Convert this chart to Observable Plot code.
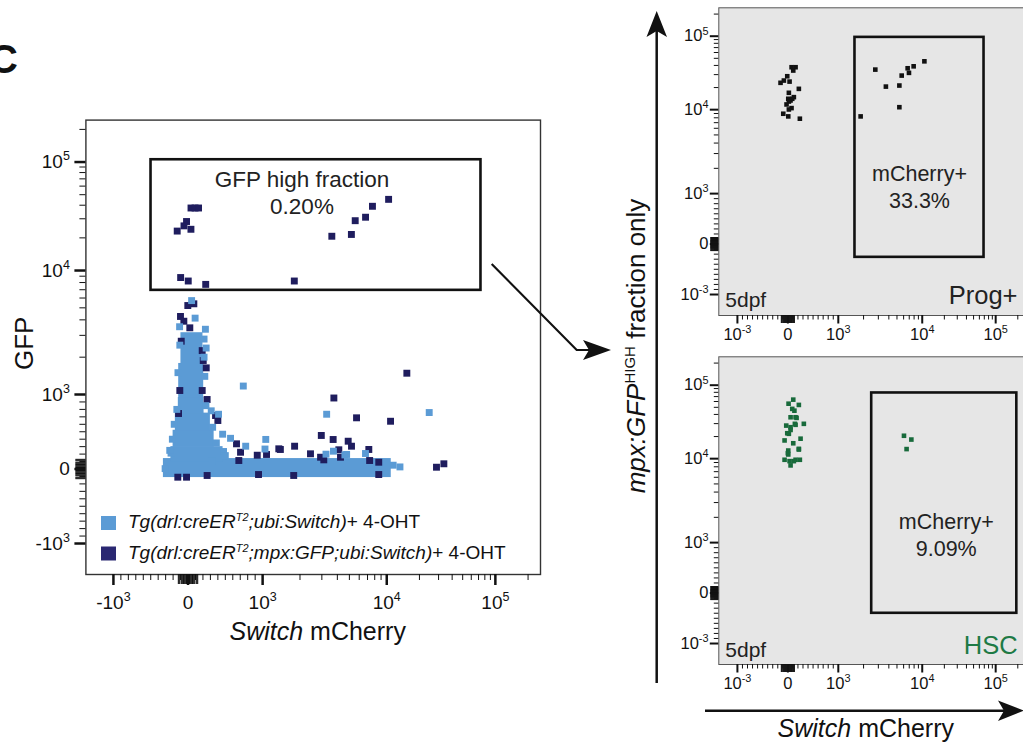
<!DOCTYPE html>
<html><head><meta charset="utf-8">
<script src="https://cdn.jsdelivr.net/npm/d3@7"></script>
<script src="https://cdn.jsdelivr.net/npm/@observablehq/plot@0.6"></script>
<style>
body{margin:0;background:#fff;}
#fig{position:relative;width:1023px;height:744px;overflow:hidden;background:#fff;font-family:"Liberation Sans",Arial,Helvetica,sans-serif;}
</style>
</head><body><div id="fig"></div>
<script>
// ---------- tick values (fluorescence units) ----------
const majorTicks = [-1000, 0, 1000, 10000, 100000];
const leftTickLabels = ["-10^3", "0", "10^3", "10^4", "10^5"];
const rightTickLabels = ["10^-3", "0", "10^3", "10^4", "10^5"];
const linearMinor = [-900,-800,-700,-600,-500,-400,-300,-200,-100,100,200,300,400,500,600,700,800,900];
const nearZero = [-130,-120,-110,-90,-80,-70,-60,-50,-40,-30,-20,-10,10,20,30,40,50,60,70,80,90,110,120,130];
const logMinor = [2000,3000,4000,5000,6000,7000,8000,9000,20000,30000,40000,50000,60000,70000,80000,90000,200000];

// ---------- left plot: Tg(drl:creERT2;ubi:Switch) (light) dense core cells ----------
const coreX1 = [-330, -230, -200, -170, -130, -125, -95];
const coreX2 = [11000, 470, 350, 300, 215, 210, 200];
const coreY1 = [-115, 90, 290, 510, 740, 950, 1750];
const coreY2 = [140, 300, 520, 750, 960, 1780, 3150];
// light scattered events
const ctrlX = [48,95,-113,233,243,741,3280,24600,311,409,464,570,773,1060,1045,3240,4600,6740,476,-228,11450,13230,-307,326,3720,4750,
  -110,-135,-150,-185,-210,-245,215,225,240,330,380,500,215];
const ctrlY = [5720,4130,3520,3360,2370,1170,735,758,781,735,467,412,306,397,268,199,189,208,235,213,51,28,5,106,239,195,
  2500,1500,800,600,400,250,2800,1400,850,560,350,180,2000];
// Tg(drl:creERT2;mpx:GFP;ubi:Switch) (navy) events
const mpxX = [-145,-20,-54,39,40,94,141,-99,3,237,1800,3610,5190,5570,6750,7670,10400,
  78,-3,-101,-56,24,-91,190,244,204,400,369,650,704,681,928,1075,1350,-110,190,-137,-20,
  3750,5710,10840,2970,3700,4890,5200,1810,1390,7170,4110,2430,2930,3110,4240,8620,28700,33560,8620,1780,7280,15310,256,-127,256,945];
const mpxY = [23100,28300,25800,24000,37700,37700,37700,8780,8230,7730,8230,20700,21500,28800,31000,39100,45300,
  5390,5220,4260,3900,3450,2690,2260,1640,1880,651,718,338,225,114,185,195,271,1077,1077,-110,-110,
  953,687,641,450,396,373,306,306,262,262,258,204,158,123,158,91,24,70,-74,-87,114,1485,933,745,-87,-74];
const gateLeft = {x1: -496, x2: 73700, y1: 6920, y2: 105000, label: "GFP high fraction\n0.20%"};

// ---------- right top: Prog+ ----------
const progX = [74,153,107,-12,-79,-145,34,218,20,119,8,53,73,20,-91,8,238,87,20,-26,
  1845,2760,3690,5340,5340,5690,6700,6950,7900,10700];
const progY = [37800,37800,34100,28500,24900,23200,24100,19200,16960,14800,14060,13340,10500,10060,8940,8310,7800,14060,12900,11770,
  8310,35100,20600,21300,10800,29100,36600,31700,38900,45500];
const gateProg = {x1: 1580, x2: 69400, y1: -263, y2: 96400, label: "mCherry+\n33.3%"};

// ---------- right bottom: HSC ----------
const hscX = [107,218,87,54,153,139,317,-32,54,-12,-65,107,218,8,8,-65,34,153,238,54,20,
  130,173,153,218,0,119,54,14,252, 6060,7420,6510];
const hscY = [63600,53900,47600,36600,36600,29800,29800,28200,26800,22200,17700,16200,13300,12900,11400,9700,9340,9700,9700,8310,21800,
  45000,35900,28900,13600,11880,9340,24600,56000,18700, 20500,18200,13500];
const gateHsc = {x1: 2500, x2: 194000, y1: -401, y2: 78400, label: "mCherry+\n9.09%"};

// ---------- styling ----------
const FONT = '"Liberation Sans", Arial, Helvetica, sans-serif';
const LIGHT = "#5b9bd5", NAVY = "#1f1d5e", GREEN = "#186a3b", HSCTXT = "#1e7a45", PANEL = "#e6e6e6";
const X_DOMAIN = [-1.369, 4.725], Y_DOMAIN = [-1.416, 4.683];

// biexponential-like display transform (linear near zero, log above 10^3)
function biex(v) {
  const a = Math.abs(v), s = Math.sign(v);
  if (a <= 1000) return v / 1000;
  if (a <= 1e4) return s * (1 + 1.664 * Math.log10(a / 1000));
  return s * (2.664 + 1.456 * Math.log10(a / 1e4));
}
const idx = n => d3.range(n);

function axes(labels, o) {
  const majD = majorTicks.map(biex);
  const minD = linearMinor.concat(logMinor).map(biex);
  const zD = nearZero.map(biex);
  const common = {label: null, stroke: "#111", tickFormat: () => ""};
  return [
    Plot.axisX(minD, {...common, tickSize: o.minor, strokeWidth: 1}),
    Plot.axisX(zD, {...common, tickSize: o.zero, strokeWidth: 1}),
    Plot.axisX(majD, {...common, tickSize: o.major, strokeWidth: o.sw}),
    Plot.axisY(minD, {...common, tickSize: o.minor, strokeWidth: 1}),
    Plot.axisY(zD, {...common, tickSize: o.zero, strokeWidth: 1}),
    Plot.axisY(majD, {...common, tickSize: o.major, strokeWidth: o.sw}),
    // tick labels
    Plot.text(idx(majD.length), {x: i => majD[i], frameAnchor: "bottom", text: i => labels[i], lineAnchor: "top", dy: o.labDy, fontSize: o.fs, fill: "#111"}),
    Plot.text(idx(majD.length), {y: i => majD[i], frameAnchor: "left", text: i => labels[i], textAnchor: "end", dx: o.labDx, fontSize: o.fs, fill: "#111"})
  ];
}

function gateMarks(g, fs, lh, dx, dy, sw) {
  return [
    Plot.rect([g], {x1: d => biex(d.x1), x2: d => biex(d.x2), y1: d => biex(d.y1), y2: d => biex(d.y2), fill: "none", stroke: "#111", strokeWidth: sw}),
    Plot.text([g], {x: d => (biex(d.x1) + biex(d.x2)) / 2, y: d => biex(d.y2), text: d => d.label, lineAnchor: "top", lineHeight: lh, fontSize: fs, dx, dy, fill: "#222"})
  ];
}

// turn "10^5" tick labels into 10 + superscript
function supify(svg, fs) {
  const NS = "http://www.w3.org/2000/svg";
  svg.querySelectorAll("text").forEach(t => {
    if (t.querySelector("tspan")) return;
    const s = t.textContent, k = s.indexOf("^");
    if (k < 0) return;
    t.textContent = s.slice(0, k);
    const ts = document.createElementNS(NS, "tspan");
    ts.setAttribute("dy", (-0.42 * fs).toFixed(1));
    ts.setAttribute("font-size", (fs * 0.66).toFixed(1));
    ts.textContent = s.slice(k + 1);
    t.appendChild(ts);
  });
  return svg;
}

const fig = document.getElementById("fig");
function place(node, left, top, w) {
  const div = document.createElement("div");
  div.style.cssText = `position:absolute;left:${left}px;top:${top}px;width:${w}px;`;
  node.style.maxWidth = "none";
  div.appendChild(node);
  fig.appendChild(div);
}

// ---------- left chart ----------
const left = Plot.plot({
  width: 560, height: 660,
  marginLeft: 85.4, marginRight: 20, marginTop: 119.6, marginBottom: 86,
  x: {domain: X_DOMAIN}, y: {domain: Y_DOMAIN},
  style: {fontFamily: FONT, background: "transparent", color: "#111", overflow: "visible"},
  marks: [
    Plot.rect(idx(coreX1.length), {x1: i => biex(coreX1[i]), x2: i => biex(coreX2[i]), y1: i => biex(coreY1[i]), y2: i => biex(coreY2[i]), fill: LIGHT}),
    Plot.dot(idx(mpxX.length), {x: i => biex(mpxX[i]), y: i => biex(mpxY[i]), symbol: "square", r: 3.9, fill: NAVY}),
    Plot.dot(idx(ctrlX.length), {x: i => biex(ctrlX[i]), y: i => biex(ctrlY[i]), symbol: "square", r: 3.9, fill: LIGHT}),
    ...gateMarks(gateLeft, 22.5, 1.22, -14, 7.7, 2.6),
    Plot.frame({stroke: "#333", strokeWidth: 1.4}),
    ...axes(leftTickLabels, {minor: 6, zero: 10, major: 11, sw: 2.5, labDy: 20.5, labDx: -16, fs: 19})
  ]
});
place(supify(left, 19), 0, 0, 560);

// ---------- right panels ----------
function panel(xs, ys, color, gate, gdx, gdy, corner, cornerColor, cdx, cdy, fdy) {
  return Plot.plot({
    width: 380, height: 350,
    marginLeft: 58.3, marginRight: 14.3, marginTop: 7.3, marginBottom: 35,
    x: {domain: X_DOMAIN}, y: {domain: Y_DOMAIN},
    style: {fontFamily: FONT, background: "transparent", color: "#111", overflow: "visible"},
    marks: [
      Plot.frame({fill: PANEL, stroke: "#555", strokeWidth: 1}),
      ...gateMarks(gate, 21.5, 1.25, gdx, gdy, 2.6),
      Plot.dot(idx(xs.length), {x: i => biex(xs[i]), y: i => biex(ys[i]), symbol: "square", r: 2.6, fill: color}),
      Plot.text(["5dpf"], {frameAnchor: "bottom-left", text: d => d, textAnchor: "start", lineAnchor: "bottom", fontSize: 21, dx: 6.5, dy: fdy, fill: "#222"}),
      Plot.text([corner], {frameAnchor: "bottom-right", text: d => d, textAnchor: "end", lineAnchor: "bottom", fontSize: 25.5, dx: cdx, dy: cdy, fill: cornerColor}),
      ...axes(rightTickLabels, {minor: 4.5, zero: 8, major: 8.5, sw: 2, labDy: 13, labDx: -10.3, fs: 16.5})
    ]
  });
}
place(supify(panel(progX, progY, "#111", gateProg, 0, 124.2, "Prog+", "#222", -8.7, -11.7, -8.3), 16.5), 660, 0, 380);
place(supify(panel(hscX, hscY, GREEN, gateHsc, 2, 116.9, "HSC", HSCTXT, -8.5, -10.7, -8), 16.5), 660, 349, 380);

// ---------- annotations overlay ----------
const ov = `
<svg xmlns="http://www.w3.org/2000/svg" width="1023" height="744" style="position:absolute;left:0;top:0;pointer-events:none;font-family:${FONT.replace(/"/g, "'")}">
  <text x="-11" y="73" font-size="40" font-weight="bold" fill="#111">C</text>
  <text transform="translate(32.7,343.3) rotate(-90)" text-anchor="middle" font-size="26" fill="#111">GFP</text>
  <text x="317.7" y="640.3" text-anchor="middle" font-size="25" fill="#111"><tspan font-style="italic">Switch</tspan> mCherry</text>
  <rect x="101" y="516" width="15" height="14" fill="${LIGHT}"/>
  <rect x="101" y="546.5" width="15" height="14" fill="#2a2872"/>
  <text x="128" y="528.4" font-size="19" fill="#111"><tspan font-style="italic">Tg(drl:creER</tspan><tspan font-style="italic" font-size="11" dy="-7">T2</tspan><tspan font-style="italic" dy="7">;ubi:Switch)</tspan><tspan>+ 4-OHT</tspan></text>
  <text x="128" y="558.7" font-size="19" fill="#111"><tspan font-style="italic">Tg(drl:creER</tspan><tspan font-style="italic" font-size="11" dy="-7">T2</tspan><tspan font-style="italic" dy="7">;mpx:GFP;ubi:Switch)</tspan><tspan>+ 4-OHT</tspan></text>
  <path d="M491.7,264 L576.7,350 L590,350" fill="none" stroke="#111" stroke-width="2.2"/>
  <polygon points="611,350 583,340 589,350 583,360" fill="#111"/>
  <path d="M656.7,683 L656.7,30" fill="none" stroke="#111" stroke-width="2.5"/>
  <polygon points="656.7,11 646.5,37 656.7,31 667,37" fill="#111"/>
  <path d="M705,710.7 L1005,710.7" fill="none" stroke="#111" stroke-width="2.5"/>
  <polygon points="1024,710.7 998,700.5 1004,710.7 998,721" fill="#111"/>
  <text transform="translate(645,346) rotate(-90)" text-anchor="middle" font-size="26" fill="#111"><tspan font-style="italic">mpx:GFP</tspan><tspan font-size="15" dy="-10">HIGH</tspan><tspan dy="10"> fraction only</tspan></text>
  <text x="865.8" y="737" text-anchor="middle" font-size="25" fill="#111"><tspan font-style="italic">Switch</tspan> mCherry</text>
</svg>`;
fig.insertAdjacentHTML("beforeend", ov);
</script>
</body></html>
